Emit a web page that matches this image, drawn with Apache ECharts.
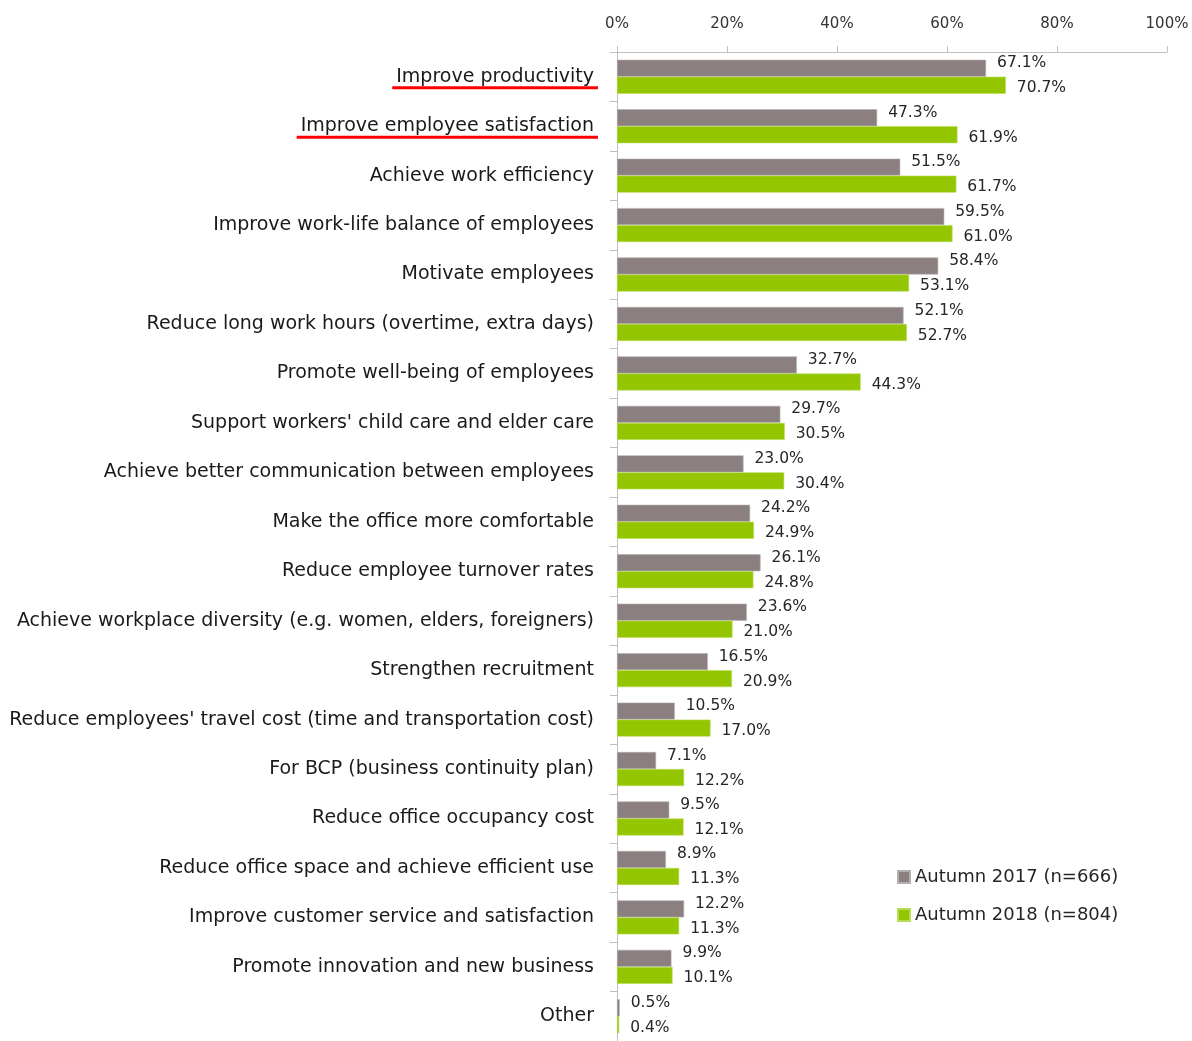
<!DOCTYPE html>
<html>
<head>
<meta charset="utf-8">
<title>Purposes of introducing telework</title>
<script src="https://cdn.jsdelivr.net/npm/echarts@6/dist/echarts.min.js"></script>
<style>
  html, body { margin: 0; padding: 0; background: #ffffff; }
  #chart { width: 1192px; height: 1041px; }
</style>
</head>
<body>
<div id="chart"></div>
<script>
// Survey purposes, listed top to bottom
const categories = [
  'Improve productivity',
  'Improve employee satisfaction',
  'Achieve work efficiency',
  'Improve work-life balance of employees',
  'Motivate employees',
  'Reduce long work hours (overtime, extra days)',
  'Promote well-being of employees',
  "Support workers' child care and elder care",
  'Achieve better communication between employees',
  'Make the office more comfortable',
  'Reduce employee turnover rates',
  'Achieve workplace diversity (e.g. women, elders, foreigners)',
  'Strengthen recruitment',
  "Reduce employees' travel cost (time and transportation cost)",
  'For BCP (business continuity plan)',
  'Reduce office occupancy cost',
  'Reduce office space and achieve efficient use',
  'Improve customer service and satisfaction',
  'Promote innovation and new business',
  'Other'
];

// Share of respondents (%)
const autumn2017 = [67.1, 47.3, 51.5, 59.5, 58.4, 52.1, 32.7, 29.7, 23.0, 24.2,
                    26.1, 23.6, 16.5, 10.5, 7.1, 9.5, 8.9, 12.2, 9.9, 0.5];
const autumn2018 = [70.7, 61.9, 61.7, 61.0, 53.1, 52.7, 44.3, 30.5, 30.4, 24.9,
                    24.8, 21.0, 20.9, 17.0, 12.2, 12.1, 11.3, 11.3, 10.1, 0.4];

const seriesNames = ['Autumn 2017 (n=666)', 'Autumn 2018 (n=804)'];
const xTicks = [0, 20, 40, 60, 80, 100];

// Categories emphasised with a red underline
const highlighted = ['Improve productivity', 'Improve employee satisfaction'];

const FONT = '"DejaVu Sans", Verdana, sans-serif';
const CAT_FONT_SIZE = 19;
const LABEL_MARGIN = 23;

const chart = echarts.init(document.getElementById('chart'), null, { renderer: 'canvas' });

const valueLabel = (dy) => ({
  show: true,
  position: 'right',
  distance: 11,
  offset: [0, dy],
  color: '#262626',
  fontFamily: FONT,
  fontSize: 15.5,
  formatter: (p) => p.value.toFixed(1) + '%'
});

chart.setOption({
  animation: false,
  backgroundColor: '#ffffff',
  grid: { left: 617, top: 52, width: 550, height: 995, containLabel: false },
  legend: {
    orient: 'vertical',
    left: 892,
    top: 863,
    itemWidth: 12,
    itemHeight: 12,
    itemGap: 20,
    icon: 'rect',
    data: seriesNames,
    textStyle: { color: '#262626', fontFamily: FONT, fontSize: 18 }
  },
  xAxis: {
    type: 'value',
    position: 'top',
    min: xTicks[0],
    max: xTicks[xTicks.length - 1],
    interval: xTicks[1] - xTicks[0],
    axisLine: { show: true, lineStyle: { color: '#bfbfbf', width: 1 } },
    axisTick: { show: true, inside: false, length: 6, lineStyle: { color: '#bfbfbf' } },
    splitLine: { show: false },
    axisLabel: {
      margin: 20,
      color: '#333333',
      fontFamily: FONT,
      fontSize: 15,
      formatter: '{value}%'
    }
  },
  yAxis: {
    type: 'category',
    inverse: true,
    data: categories,
    axisLine: { show: true, lineStyle: { color: '#bfbfbf', width: 1 } },
    axisTick: { show: true, length: 7, lineStyle: { color: '#bfbfbf' } },
    axisLabel: {
      margin: LABEL_MARGIN,
      color: '#1a1a1a',
      fontFamily: FONT,
      fontSize: CAT_FONT_SIZE,
      verticalAlign: 'middle',
      padding: [0, 0, 5, 0]
    }
  },
  series: [
    {
      name: seriesNames[0],
      type: 'bar',
      data: autumn2017,
      barWidth: 17,
      barGap: '0%',
      itemStyle: { color: '#8c7f7f', borderColor: '#b5aeae', borderWidth: 0.6 },
      label: valueLabel(-5)
    },
    {
      name: seriesNames[1],
      type: 'bar',
      data: autumn2018,
      barWidth: 17,
      barGap: '0%',
      itemStyle: { color: '#93c600', borderColor: '#b9dc55', borderWidth: 0.6 },
      label: valueLabel(3)
    }
  ]
});

// Red underlines beneath the emphasised category labels
function drawUnderlines() {
  const ctx = document.createElement('canvas').getContext('2d');
  ctx.font = CAT_FONT_SIZE + 'px ' + FONT;
  const axisX = chart.convertToPixel({ xAxisIndex: 0 }, 0);
  const right = axisX - LABEL_MARGIN;
  const elements = highlighted.map((name) => {
    const cy = chart.convertToPixel({ yAxisIndex: 0 }, name);
    const w = ctx.measureText(name).width;
    const y = cy + 11;
    return {
      type: 'line',
      silent: true,
      shape: { x1: right - w - 4, y1: y, x2: right + 4, y2: y },
      style: { stroke: '#ff0000', lineWidth: 3 }
    };
  });
  chart.setOption({ graphic: elements });
}
drawUnderlines();
</script>
</body>
</html>
